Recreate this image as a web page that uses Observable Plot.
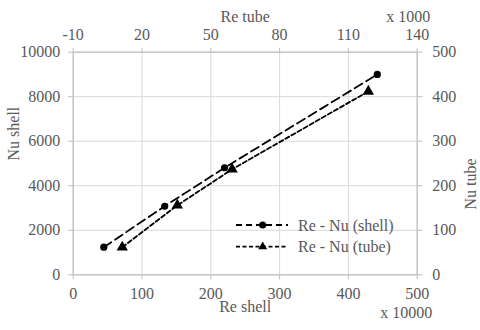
<!DOCTYPE html>
<html>
<head>
<meta charset="utf-8">
<script src="https://cdn.jsdelivr.net/npm/d3@7"></script>
<script src="https://cdn.jsdelivr.net/npm/@observablehq/plot@0.6"></script>
<style>
  html, body { margin: 0; padding: 0; background: #fff; }
  #wrap { position: relative; width: 480px; height: 330px; }
</style>
</head>
<body>
<div id="wrap"></div>
<script>
// Re shell (x 10000) vs Nu shell
const reShell = [44.5, 133, 220, 442];
const nuShell = [1240, 3080, 4810, 9000];
// Re tube (x 1000) vs Nu tube
const reTube = [11.4, 35.4, 59.3, 118.7];
const nuTube = [62, 156, 237, 412];

const bottomTicks = [0, 100, 200, 300, 400, 500];
const topTicks = [-10, 20, 50, 80, 110, 140];
const leftTicks = [0, 2000, 4000, 6000, 8000, 10000];
const rightTicks = [0, 100, 200, 300, 400, 500];

const seriesNames = ["Re - Nu (shell)", "Re - Nu (tube)"];

// secondary axes mapped onto the primary scales
const tubeDomainX = [-10, 140];
const tubeDomainY = [0, 500];
const shellDomainX = [0, 500];
const shellDomainY = [0, 10000];
const tx = v => (v - tubeDomainX[0]) / (tubeDomainX[1] - tubeDomainX[0]) * (shellDomainX[1] - shellDomainX[0]) + shellDomainX[0];
const ty = v => v / tubeDomainY[1] * shellDomainY[1];
const txInv = v => Math.round(v / (shellDomainX[1] - shellDomainX[0]) * (tubeDomainX[1] - tubeDomainX[0]) + tubeDomainX[0]);
const tyInv = v => Math.round(v / shellDomainY[1] * tubeDomainY[1]);

const shell = reShell.map((x, i) => ({x, y: nuShell[i]}));
const tube = reTube.map((x, i) => ({x: tx(x), y: ty(nuTube[i])}));

const grey = "#595959";
const axisStroke = "#bfbfbf";
const FONT = "Liberation Serif, Times New Roman, Tinos, DejaVu Serif, serif";
const FS = 16;

const chart = Plot.plot({
  width: 480,
  height: 330,
  marginLeft: 72.7,
  marginRight: 63.3,
  marginTop: 51.7,
  marginBottom: 55.7,
  style: {fontFamily: FONT, fontSize: FS + "px", color: grey, background: "#fff"},
  x: {domain: shellDomainX},
  y: {domain: shellDomainY},
  marks: [
    Plot.gridX(bottomTicks, {stroke: "#d9d9d9", strokeOpacity: 1, strokeWidth: 1}),
    Plot.gridY(leftTicks, {stroke: "#d9d9d9", strokeOpacity: 1, strokeWidth: 1}),
    Plot.frame({stroke: axisStroke, strokeWidth: 1.2}),
    Plot.axisX({anchor: "bottom", ticks: bottomTicks, tickSize: 5, tickPadding: 8, stroke: axisStroke, label: null, tickFormat: d => String(d), fontFamily: FONT, fontSize: FS}),
    Plot.axisX({anchor: "top", ticks: topTicks.map(tx), tickSize: 5, tickPadding: 7, stroke: axisStroke, label: null, tickFormat: d => String(txInv(d)), fontFamily: FONT, fontSize: FS}),
    Plot.axisY({anchor: "left", ticks: leftTicks, tickSize: 5, tickPadding: 8, stroke: axisStroke, label: null, tickFormat: d => String(d), fontFamily: FONT, fontSize: FS}),
    Plot.axisY({anchor: "right", ticks: rightTicks.map(ty), tickSize: 5, tickPadding: 10, stroke: axisStroke, label: null, tickFormat: d => String(tyInv(d)), fontFamily: FONT, fontSize: FS}),
    Plot.line(shell, {x: "x", y: "y", stroke: "#000", strokeWidth: 1.8, strokeDasharray: "9,4.5"}),
    Plot.line(tube, {x: "x", y: "y", stroke: "#000", strokeWidth: 1.8, strokeDasharray: "4.5,2.5"}),
    Plot.dot(shell, {x: "x", y: "y", r: 3.6, fill: "#000", stroke: "none", symbol: "circle"}),
    Plot.dot(tube, {x: "x", y: "y", r: 4.2, fill: "#000", stroke: "none", symbol: "triangle"}),
    Plot.text(["Re shell"], {text: d => d, frameAnchor: "bottom", dy: 37.5, fill: grey, fontSize: FS, fontFamily: FONT}),
    Plot.text(["x 10000"], {text: d => d, frameAnchor: "bottom-right", dx: 15, dy: 43.5, textAnchor: "end", fill: grey, fontSize: FS, fontFamily: FONT}),
    Plot.text(["Re tube"], {text: d => d, frameAnchor: "top", dy: -41.5, fill: grey, fontSize: FS, fontFamily: FONT}),
    Plot.text(["x 1000"], {text: d => d, frameAnchor: "top-right", dx: 13, dy: -41.5, textAnchor: "end", fill: grey, fontSize: FS, fontFamily: FONT}),
    Plot.text(["Nu shell"], {text: d => d, frameAnchor: "left", dx: -59, dy: -3, rotate: -90, fill: grey, fontSize: FS, fontFamily: FONT}),
    Plot.text(["Nu tube"], {text: d => d, frameAnchor: "right", dx: 54, dy: -5, rotate: -90, fill: grey, fontSize: FS, fontFamily: FONT})
  ]
});
document.getElementById("wrap").appendChild(chart);

// legend overlay
const lg = d3.create("svg").attr("width", 190).attr("height", 46)
  .style("position", "absolute").style("left", "230px").style("top", "214px").style("overflow", "visible");
const rows = [
  {name: seriesNames[0], dash: "6,4", symbol: d3.symbolCircle, size: 40},
  {name: seriesNames[1], dash: "4,2.5", symbol: d3.symbolTriangle, size: 34}
];
rows.forEach((r, i) => {
  const y = 11 + i * 21.7;
  lg.append("line").attr("x1", 6).attr("x2", 58).attr("y1", y).attr("y2", y)
    .attr("stroke", "#000").attr("stroke-width", 1.8).attr("stroke-dasharray", r.dash);
  lg.append("path").attr("d", d3.symbol(r.symbol, r.size)()).attr("transform", `translate(32.7,${y})`).attr("fill", "#000");
  lg.append("text").attr("x", 68).attr("y", y).attr("dy", "0.35em").attr("fill", grey)
    .attr("font-family", FONT).attr("font-size", FS).text(r.name);
});
document.getElementById("wrap").appendChild(lg.node());
</script>
</body>
</html>
